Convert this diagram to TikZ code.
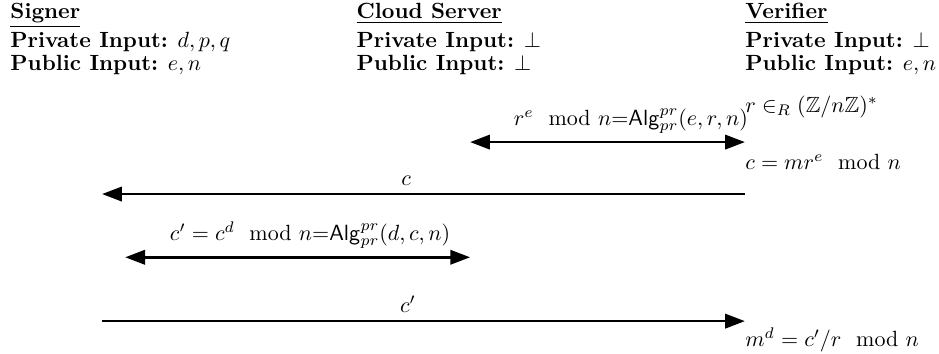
\documentclass[tikz,border=0pt]{standalone}
\usepackage{amsmath}
\usepackage{amssymb}
\usepackage{amsfonts}
\usepackage{pgf,tikz}
\usetikzlibrary{arrows}
\usetikzlibrary{arrows.meta}

\begin{document}
\begin{tikzpicture}[msg/.style={very thick,-{Triangle[length=9pt,width=6.5pt]}},
    both/.style={very thick,{Triangle[length=9pt,width=6.5pt]}-{Triangle[length=9pt,width=6.5pt]}},
    party/.style={anchor=north west,align=left,inner sep=0pt},
    calc/.style={anchor=west,inner sep=0pt}]
    \useasboundingbox (0,0) rectangle (15,-5.64);
    \node[party] (signer) at (0.16,-0.05) {\underline{\textbf{Signer}}\\[1pt] \textbf{Private Input:} $d,p,q$\\[-1.5pt] \textbf{Public Input:} $e,n$};
    \node[party] (cloud) at (5.69,-0.05) {\underline{\textbf{Cloud Server}}\\[1pt] \textbf{Private Input:} $\perp$\\[-1.5pt] \textbf{Public Input:} $\perp$};
    \node[party] (verifier) at (11.9,-0.05) {\underline{\textbf{Verifier}}\\[1pt] \textbf{Private Input:} $\perp$\\[-1.5pt] \textbf{Public Input:} $e,n$};
    \node[calc] (pick) at (11.9,-1.71) {$r \in_R (\mathbb{Z}/n\mathbb{Z})^*$};
    \node[calc] (blind) at (11.9,-2.58) {$c = mr^e \mod n$};
    \node[calc,anchor=base west] (unblind) at (11.9,-5.53) {$m^d = c'/r \mod n$};
    \coordinate (c1) at (7.51,-2.27); \coordinate (v1) at (11.9,-2.27);
    \coordinate (v2) at (11.9,-3.10); \coordinate (s2) at (1.63,-3.10);
    \coordinate (s3) at (2.0,-4.11); \coordinate (c3) at (7.51,-4.11);
    \coordinate (s4) at (1.63,-5.13); \coordinate (v4) at (11.9,-5.13);
    \draw[both] (c1) -- node [above,pos=0.585] (q1) {$r^e \mod n$=$\mathsf{Alg}^{pr}_{pr}(e,r,n)$} (v1);
    \draw[msg] (v2) -- node [above,pos=0.527] (q2) {$c$} (s2);
    \draw[both] (s3) -- node [above,pos=0.536] (q3) {$c' = c^d \mod n$=$\mathsf{Alg}^{pr}_{pr}(d,c,n)$} (c3);
    \draw[msg] (s4) -- node [above,pos=0.476] (q4) {$c'$} (v4);
\end{tikzpicture}
\end{document}
